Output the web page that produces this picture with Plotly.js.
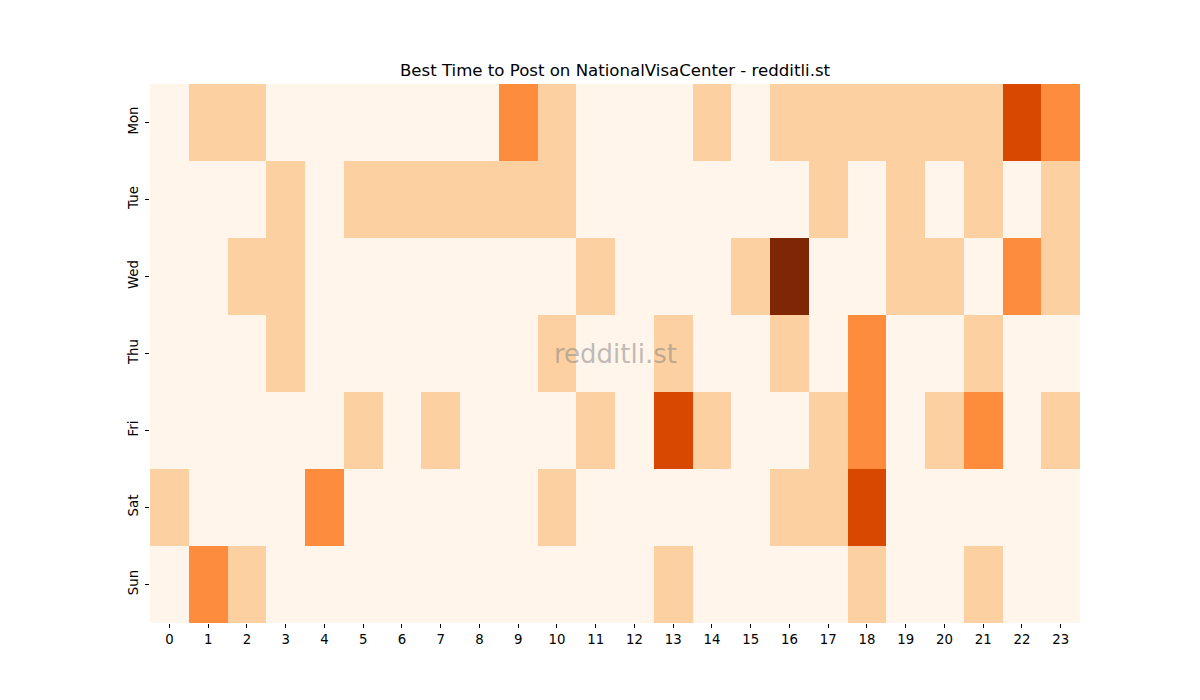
<!DOCTYPE html>
<html>
<head>
<meta charset="utf-8">
<script src="https://cdn.plot.ly/plotly-3.0.1.min.js"></script>
<style>body{margin:0;padding:0;background:#fff;} #chart{width:1200px;height:700px;}</style>
</head>
<body>
<div id="chart"></div>
<script>
const hours = ["0","1","2","3","4","5","6","7","8","9","10","11","12","13","14","15","16","17","18","19","20","21","22","23"];
const days = ["Mon","Tue","Wed","Thu","Fri","Sat","Sun"];
const mon = [0,1,1,0,0,0,0,0,0,2,1,0,0,0,1,0,1,1,1,1,1,1,3,2];
const tue = [0,0,0,1,0,1,1,1,1,1,1,0,0,0,0,0,0,1,0,1,0,1,0,1];
const wed = [0,0,1,1,0,0,0,0,0,0,0,1,0,0,0,1,4,0,0,1,1,0,2,1];
const thu = [0,0,0,1,0,0,0,0,0,0,1,0,0,1,0,0,1,0,2,0,0,1,0,0];
const fri = [0,0,0,0,0,1,0,1,0,0,0,1,0,3,1,0,0,1,2,0,1,2,0,1];
const sat = [1,0,0,0,2,0,0,0,0,0,1,0,0,0,0,0,1,1,3,0,0,0,0,0];
const sun = [0,2,1,0,0,0,0,0,0,0,0,0,0,1,0,0,0,0,1,0,0,1,0,0];
const z = [mon, tue, wed, thu, fri, sat, sun];

const oranges = [
  [0, "#fff5eb"], [0.125, "#fee6ce"], [0.25, "#fdd0a2"], [0.375, "#fdae6b"],
  [0.5, "#fd8d3c"], [0.625, "#f16913"], [0.75, "#d94801"], [0.875, "#a63603"], [1, "#7f2704"]
];

const trace = {
  type: "heatmap",
  x: hours,
  y: days,
  z: z,
  zmin: 0,
  zmax: 4,
  colorscale: oranges,
  showscale: false,
  xgap: 0, ygap: 0,
  hoverongaps: false
};

const layout = {
  width: 1200, height: 700,
  margin: {l: 150, r: 120, t: 84, b: 77},
  paper_bgcolor: "#fff", plot_bgcolor: "#fff",
  font: {family: "DejaVu Sans, sans-serif", size: 13, color: "#000"},
  title: {text: "Best Time to Post on NationalVisaCenter - redditli.st", font: {size: 16.6, color: "#000"},
          xref: "paper", x: 0.5, xanchor: "center", yref: "container", y: 0.9, yanchor: "middle"},
  xaxis: {type: "category", ticks: "outside", ticklen: 4, tickcolor: "#000", showgrid: false, zeroline: false, showline: false, tickfont: {size: 13.3}},
  yaxis: {type: "category", autorange: "reversed", ticks: "outside", ticklen: 4, tickcolor: "#000", showgrid: false, zeroline: false, showline: false, tickangle: -90, tickfont: {size: 13.3}, ticklabelstandoff: 2},
  annotations: [{
    text: "redditli.st", xref: "paper", yref: "paper", x: 0.5, y: 0.5, showarrow: false,
    font: {size: 26, color: "rgba(128,128,128,0.5)"}
  }]
};

Plotly.newPlot("chart", [trace], layout, {displayModeBar: false, staticPlot: true});
</script>
</body>
</html>
